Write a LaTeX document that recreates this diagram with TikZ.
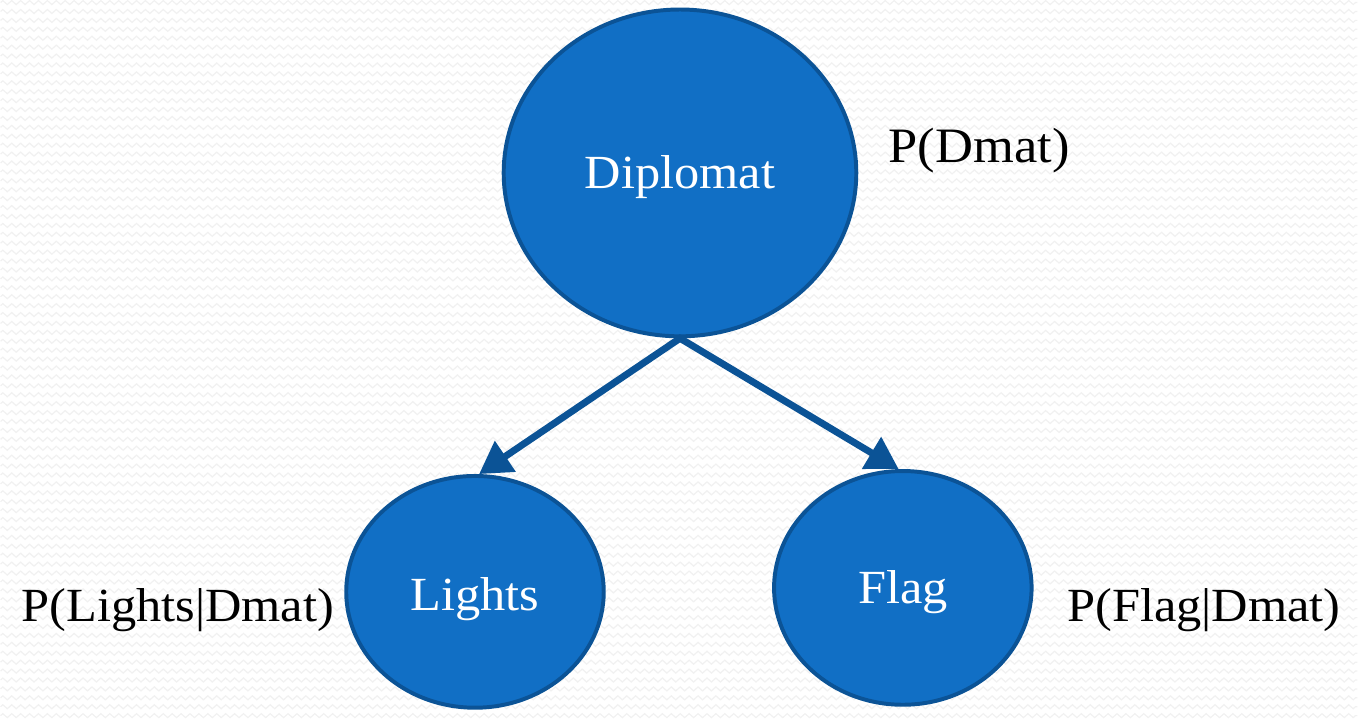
\documentclass[tikz,border=0pt]{standalone}
\usepackage{fontspec}
\setmainfont{Liberation Serif}[FakeStretch=1.06]
\usetikzlibrary{shapes.geometric,arrows.meta,decorations.pathmorphing}
\definecolor{nodefill}{HTML}{116FC5}
\definecolor{nodeedge}{HTML}{0B5396}
\definecolor{bgwave}{HTML}{F1F1F1}
\tikzset{
  bnode/.style={ellipse, draw=nodeedge, fill=nodefill, line width=4pt, inner sep=0pt,
    text=white, font=\fontsize{48}{54}\selectfont, text height=31.8pt, text depth=0pt},
  link/.style={draw=nodeedge, line width=7pt,
    -{Triangle[length=32pt,width=36pt]}, shorten <=-2pt},
  prob/.style={text=black, inner sep=0pt, anchor=base, font=\fontsize{48}{54}\selectfont},
  wave/.style={draw=bgwave, line width=1.2pt,
    decorate, decoration={zigzag, segment length=9pt, amplitude=2pt}}
}
\begin{document}
\begin{tikzpicture}[x=1pt,y=-1pt]
  % paper with a faint wavy texture
  \fill[white] (0,0) rectangle (1358,714);
  \foreach \r in {0,9,...,720} {
    \draw[wave] (-5,\r) -- (1365,\r);
  }
  \useasboundingbox (0,0) rectangle (1358,714);

  % network nodes
  \node[bnode, minimum width=356pt, minimum height=330pt] (dip) at (681,172) {Diplomat};
  \node[bnode, minimum width=260pt, minimum height=234pt] (lig) at (474,595) {\raisebox{-3pt}{Lights}};
  \node[bnode, minimum width=260pt, minimum height=236pt] (flg) at (906,591) {Flag};

  % dependencies
  \draw[link] (dip.south) -- (lig.88);
  \draw[link] (dip.south) -- (flg.92);

  % probability labels
  \node[prob, font=\fontsize{50}{56}\selectfont] (pd) at (983,161) {P(Dmat)};
  \node[prob] (pl) at (174,625) {P(Lights|Dmat)};
  \node[prob] (pf) at (1210,625) {P(Flag|Dmat)};
\end{tikzpicture}
\end{document}
